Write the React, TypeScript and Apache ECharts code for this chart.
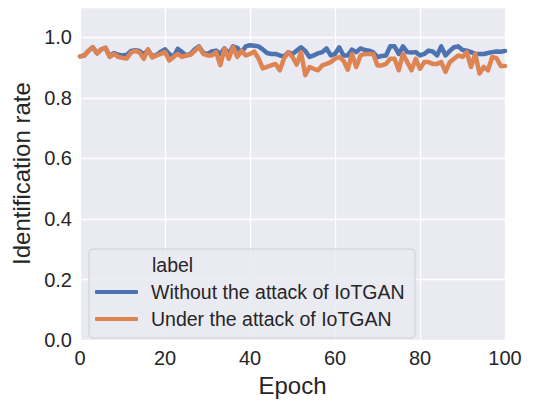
import React, { useEffect, useRef } from "react";
import * as echarts from "echarts";

const epochs: number[] = Array.from({ length: 101 }, (_, i) => i);

const withoutAttack: number[] = [
  0.937, 0.94, 0.955, 0.967, 0.947, 0.96, 0.965, 0.937, 0.948, 0.942,
  0.94, 0.942, 0.955, 0.957, 0.955, 0.943, 0.958, 0.937, 0.942, 0.952,
  0.96, 0.945, 0.935, 0.962, 0.951, 0.94, 0.945, 0.96, 0.97, 0.948,
  0.945, 0.953, 0.956, 0.945, 0.963, 0.945, 0.97, 0.965, 0.95, 0.97,
  0.974, 0.972, 0.97, 0.96, 0.948, 0.945, 0.945, 0.94, 0.937, 0.95,
  0.945, 0.956, 0.967, 0.955, 0.935, 0.94, 0.947, 0.951, 0.963, 0.94,
  0.945, 0.967, 0.94, 0.94, 0.959, 0.951, 0.963, 0.958, 0.956, 0.95,
  0.935, 0.938, 0.94, 0.97, 0.97, 0.945, 0.97, 0.951, 0.95, 0.951,
  0.94, 0.945, 0.956, 0.953, 0.94, 0.97, 0.94, 0.955, 0.967, 0.97,
  0.958, 0.956, 0.951, 0.945, 0.945, 0.945, 0.948, 0.951, 0.953, 0.952,
  0.955,
];

const underAttack: number[] = [
  0.937, 0.94, 0.955, 0.967, 0.947, 0.96, 0.965, 0.935, 0.945, 0.935,
  0.932, 0.93, 0.95, 0.955, 0.95, 0.929, 0.96, 0.933, 0.94, 0.945,
  0.951, 0.923, 0.935, 0.945, 0.935, 0.94, 0.942, 0.955, 0.968, 0.945,
  0.94, 0.94, 0.951, 0.908, 0.962, 0.929, 0.968, 0.935, 0.955, 0.94,
  0.945, 0.953, 0.93, 0.897, 0.902, 0.907, 0.912, 0.891, 0.93, 0.951,
  0.935, 0.91, 0.951, 0.875, 0.902, 0.896, 0.891, 0.907, 0.912, 0.918,
  0.929, 0.935, 0.923, 0.893, 0.945, 0.902, 0.94, 0.945, 0.945, 0.945,
  0.907, 0.907, 0.912, 0.929, 0.929, 0.891, 0.945, 0.918, 0.891, 0.929,
  0.896, 0.918, 0.918, 0.912, 0.912, 0.918, 0.886, 0.918, 0.929, 0.94,
  0.935, 0.951, 0.902, 0.945, 0.88, 0.902, 0.891, 0.935, 0.931, 0.905,
  0.905,
];

const seriesNames: string[] = ["Without the attack of IoTGAN", "Under the attack of IoTGAN"];
const legendTitle = "label";
const xTitle = "Epoch";
const yTitle = "Identification rate";

const FONT = "'Liberation Sans', Arial, sans-serif";
const TEXT = "#262626";

export default function App() {
  const ref = useRef<HTMLDivElement>(null);
  useEffect(() => {
    if (!ref.current) return;
    const chart = echarts.init(ref.current, undefined, { renderer: "svg" });
    const mk = (vals: number[]) => epochs.map((e, i) => [e, vals[i]]);
    chart.setOption({
      animation: false,
      backgroundColor: "#ffffff",
      grid: { left: 80, right: 35, top: 7, bottom: 55, backgroundColor: "#EAEAF2", show: true, borderWidth: 0 },
      xAxis: {
        type: "value",
        min: 0,
        max: 100,
        interval: 20,
        name: xTitle,
        nameLocation: "middle",
        nameGap: 25,
        nameTextStyle: { fontFamily: FONT, fontSize: 24, color: TEXT },
        axisLine: { show: false },
        axisTick: { show: false },
        axisLabel: { fontFamily: FONT, fontSize: 20, color: TEXT, margin: 8 },
        splitLine: { show: true, lineStyle: { color: "#ffffff", width: 1.3 } },
      },
      yAxis: {
        type: "value",
        min: 0,
        max: 1.1,
        interval: 0.2,
        name: yTitle,
        nameLocation: "middle",
        nameGap: 47,
        nameRotate: 90,
        nameTextStyle: { fontFamily: FONT, fontSize: 24, color: TEXT },
        axisLine: { show: false },
        axisTick: { show: false },
        axisLabel: {
          fontFamily: FONT,
          fontSize: 20,
          color: TEXT,
          margin: 8,
          formatter: (v: number) => (v > 1.05 ? "" : v.toFixed(1)),
        },
        splitLine: { show: true, lineStyle: { color: "#ffffff", width: 1.3 } },
      },
      legend: {
        orient: "vertical",
        left: 95,
        top: 282,
        padding: 0,
        z: 6,
        itemWidth: 43,
        itemHeight: 4,
        itemGap: 7,
        icon: "roundRect",
        textStyle: { fontFamily: FONT, fontSize: 19.5, color: TEXT, lineHeight: 20, padding: [0, 0, 0, 8] },
        data: seriesNames,
      },
      graphic: [
        {
          type: "rect",
          z: 5,
          shape: { x: 89, y: 249, width: 326, height: 89, r: 4 },
          style: { fill: "rgba(234,234,242,0.85)", stroke: "#CFCFD6", lineWidth: 1 },
        },
        {
          type: "text",
          z: 6,
          x: 152,
          y: 265,
          style: { text: legendTitle, fontFamily: FONT, fontSize: 19.5, fill: TEXT, verticalAlign: "middle" },
        },
      ],
      series: [
        {
          name: seriesNames[0],
          type: "line",
          data: mk(withoutAttack),
          showSymbol: false,
          lineStyle: { color: "#4C72B0", width: 4.5, cap: "round", join: "round" },
          itemStyle: { color: "#4C72B0" },
        },
        {
          name: seriesNames[1],
          type: "line",
          data: mk(underAttack),
          showSymbol: false,
          lineStyle: { color: "#DD8452", width: 4.5, cap: "round", join: "round" },
          itemStyle: { color: "#DD8452" },
        },
      ],
    });
    return () => chart.dispose();
  }, []);
  return <div ref={ref} style={{ position: "fixed", left: 0, top: 0, width: 540, height: 402 }} />;
}
